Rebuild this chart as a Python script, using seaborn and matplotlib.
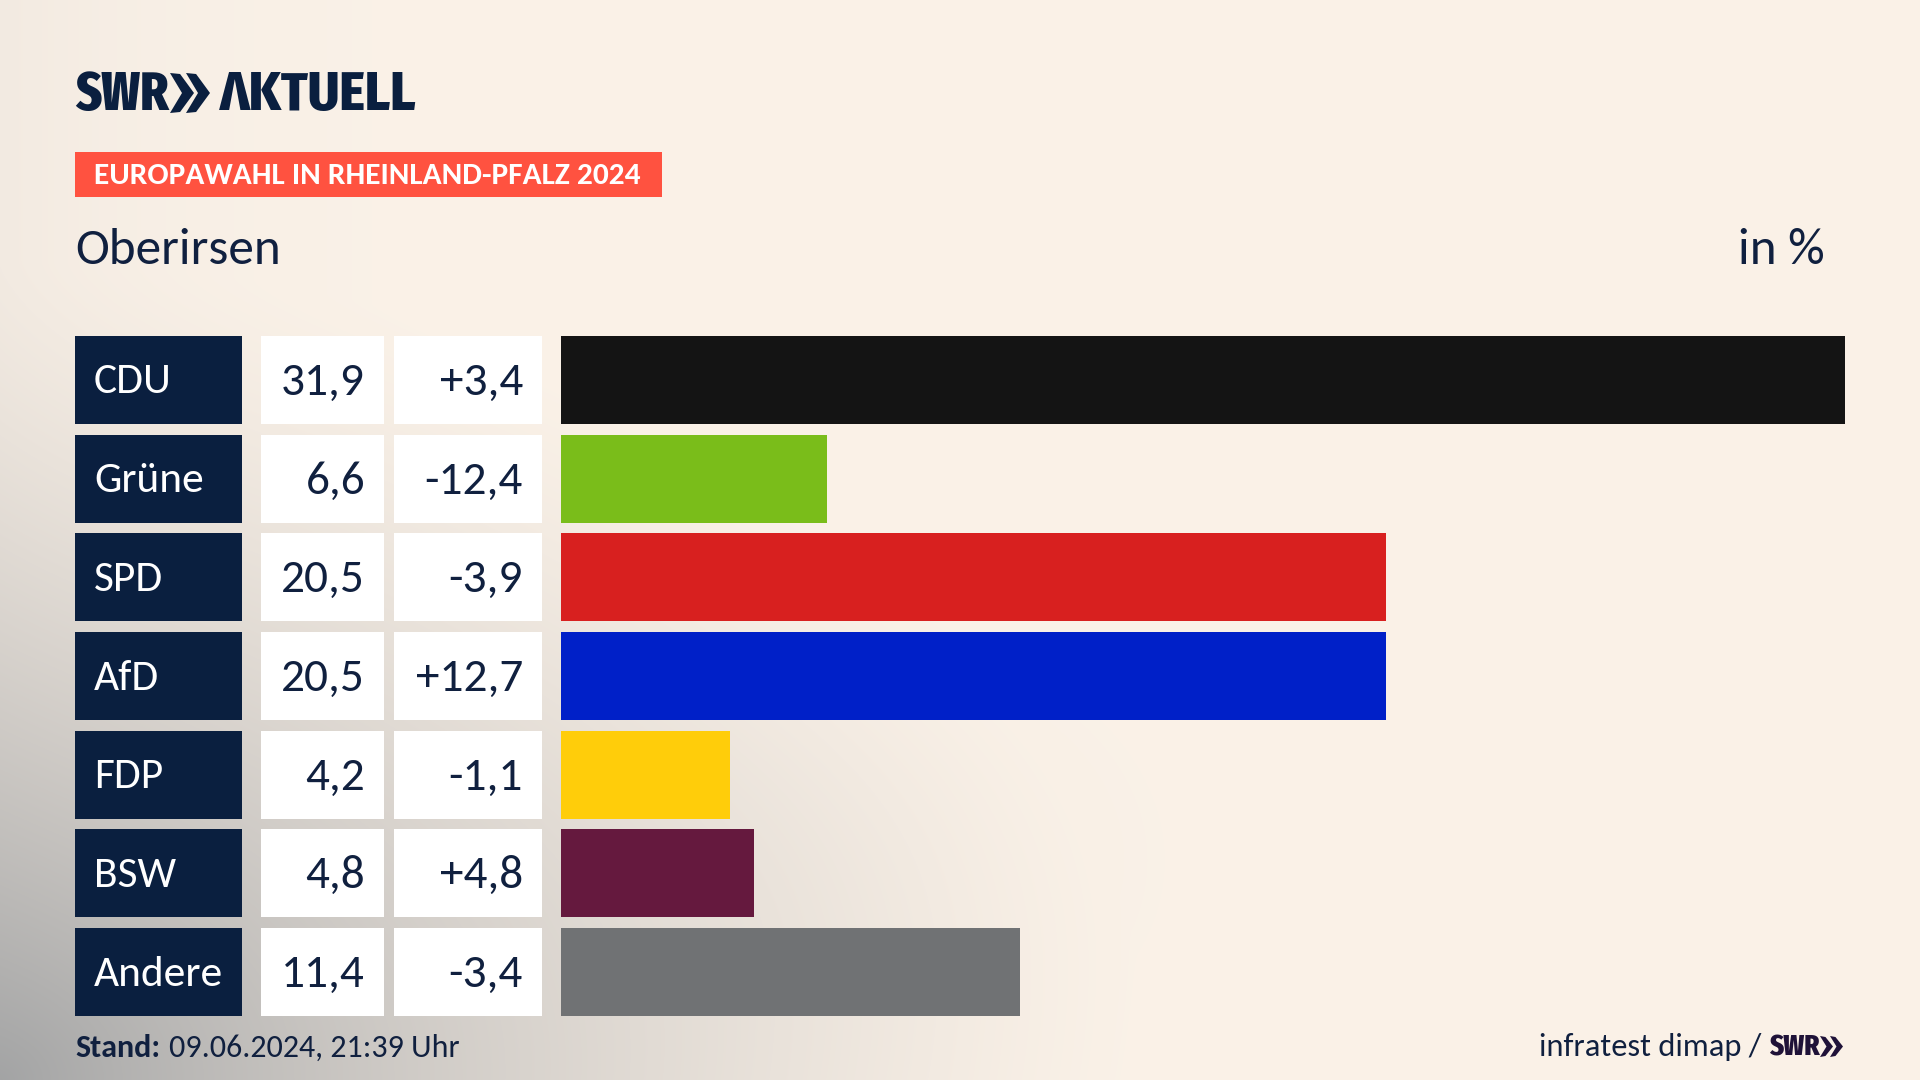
import numpy as np
import pandas as pd
import matplotlib
matplotlib.use("Agg")
import matplotlib.pyplot as plt
from matplotlib.transforms import blended_transform_factory
from matplotlib.patches import Rectangle, Polygon
import seaborn as sns

# ── data ──────────────────────────────────────────────────────────────────────
parties = ["CDU", "Grüne", "SPD", "AfD", "FDP", "BSW", "Andere"]
shares = [31.9, 6.6, 20.5, 20.5, 4.2, 4.8, 11.4]
share_labels = ["31,9", "6,6", "20,5", "20,5", "4,2", "4,8", "11,4"]
diff_labels = ["+3,4", "-12,4", "-3,9", "+12,7", "-1,1", "+4,8", "-3,4"]
party_colors = ["#141414", "#7ABD1A", "#D8201F", "#0020C8", "#FFCD0A", "#65193E", "#707274"]

NAVY = "#0A1F3F"
TEXT = "#10203F"
CORAL = "#FF5240"
FONT = ["Carlito", "Noto Sans", "DejaVu Sans"]
LOGO = ["Fira Sans Condensed", "Noto Sans", "DejaVu Sans"]
LOGO_NARROW = ["Fira Sans Extra Condensed", "Noto Sans", "DejaVu Sans"]

sns.set_theme(style="white")
plt.rcParams["font.family"] = FONT

W, H = 1920, 1080
fig = plt.figure(figsize=(W / 100, H / 100), dpi=100)

# ── background gradient ───────────────────────────────────────────────────────
bg = fig.add_axes([0, 0, 1, 1], zorder=0)
yy, xx = np.mgrid[0:H, 0:W]
dist = np.sqrt((xx / 1150) ** 2 + ((H - yy) / 820) ** 2)
weight = np.clip(1 - dist, 0, 1) ** 1.4 * 0.8 + 0.09 * np.exp(-xx / 170)
weight += 0.03 * np.exp(-(((xx - 850) / 300) ** 2 + ((yy - 860) / 220) ** 2))
weight = np.clip(weight, 0, 1)[..., None]
base = np.array([251, 242, 232]) / 255
gray = np.array([152, 154, 156]) / 255
bg.imshow(base * (1 - weight) + gray * weight, extent=(0, W, H, 0), aspect="auto", zorder=0)
bg.set_xlim(0, W)
bg.set_ylim(H, 0)
bg.axis("off")

# ── bars ──────────────────────────────────────────────────────────────────────
ROW_TOP, ROW_BOTTOM = 336, 1016
BAR_LEFT, BAR_RIGHT = 561, 1845
ROW_H = 0.89
ax = fig.add_axes([BAR_LEFT / W, 1 - ROW_BOTTOM / H, (BAR_RIGHT - BAR_LEFT) / W, (ROW_BOTTOM - ROW_TOP) / H], zorder=1)
ax.patch.set_alpha(0)
df = pd.DataFrame({"party": parties, "share": shares})
sns.barplot(data=df, x="share", y="party", hue="party", order=parties, hue_order=parties,
            palette=party_colors, saturation=1, width=ROW_H, dodge=False, legend=False,
            linewidth=0, ax=ax)
ax.set_xlim(0, max(shares))
ax.set_ylim(len(parties) - 1 + ROW_H / 2, -ROW_H / 2)
ax.axis("off")

# ── table cells, x in pixels, y in category positions ─────────────────────────
trans = blended_transform_factory(bg.transData, ax.transData)
TEXT_SHIFT = 0.015  # labels sit a touch above the row centre
for i, party in enumerate(parties):
    for x0, x1, color in [(75, 242, NAVY), (261, 384, "white"), (394, 542, "white")]:
        ax.add_patch(Rectangle((x0, i - ROW_H / 2), x1 - x0, ROW_H, transform=trans,
                               facecolor=color, edgecolor="none", clip_on=False))
    y = i - TEXT_SHIFT
    ax.text(94, y, party, transform=trans, color="white", fontsize=31.2, va="center_baseline", ha="left")
    ax.text(365, y, share_labels[i], transform=trans, color=TEXT, fontsize=34, va="center_baseline", ha="right")
    ax.text(523, y, diff_labels[i], transform=trans, color=TEXT, fontsize=34, va="center_baseline", ha="right")

# ── header ────────────────────────────────────────────────────────────────────
def chevrons(x, y_top, y_bottom, width, gap, color):
    mid = (y_top + y_bottom) / 2
    for k in range(2):
        x0 = x + k * gap
        bg.add_patch(Polygon([(x0, y_top), (x0 + width * 0.42, y_top + 1), (x0 + width, mid),
                              (x0 + width * 0.42, y_bottom - 1), (x0, y_bottom), (x0 + width * 0.5, mid)],
                             closed=True, facecolor=color, edgecolor="none"))

bg.text(75, 110, "SWR", color=NAVY, fontsize=39, fontweight=800, family=LOGO_NARROW, va="baseline")
chevrons(170, 73, 113, 24, 16, NAVY)
bg.text(220, 110, "ΛKTUELL", color=NAVY, fontsize=39, fontweight=800, family=LOGO, va="baseline")

bg.add_patch(Rectangle((75, 152), 587, 45, facecolor=CORAL, edgecolor="none"))
bg.text(94, 184, "EUROPAWAHL IN RHEINLAND-PFALZ 2024", color="white", fontsize=22.6, fontweight="bold", va="baseline")

bg.text(75, 264, "Oberirsen", color=TEXT, fontsize=36.8, va="baseline")
bg.text(1825, 264, "in %", color=TEXT, fontsize=36.8, va="baseline", ha="right")

# ── footer ────────────────────────────────────────────────────────────────────
bg.text(75, 1057, "Stand:", color=TEXT, fontsize=23, fontweight="bold", va="baseline")
bg.text(169, 1057, "09.06.2024, 21:39 Uhr", color=TEXT, fontsize=23, va="baseline")
bg.text(1761, 1056, "infratest dimap /", color=TEXT, fontsize=23.4, va="baseline", ha="right")
bg.text(1769, 1056, "SWR", color="#1F1238", fontsize=21, fontweight=800, family=LOGO_NARROW, va="baseline")
chevrons(1820, 1036, 1057, 13, 10, "#1F1238")

fig.savefig("out.png", dpi=100)
plt.close(fig)
